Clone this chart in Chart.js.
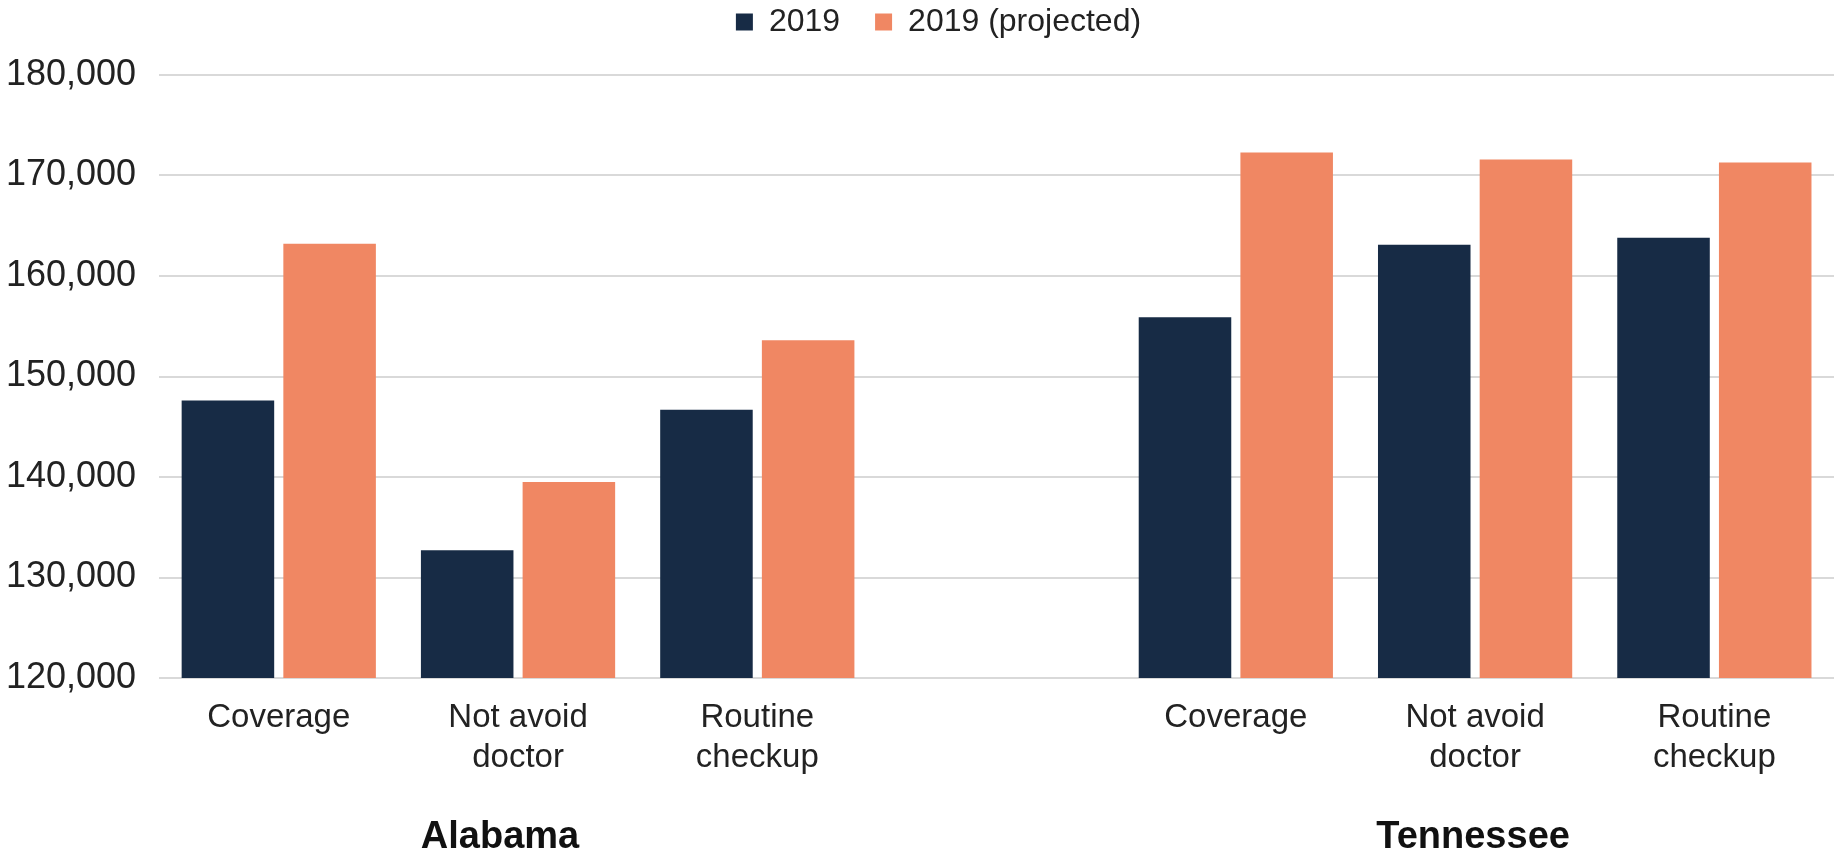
<!DOCTYPE html>
<html lang="en">
<head>
    <meta charset="UTF-8">
    <title>Alabama and Tennessee, 2019 vs 2019 (projected)</title>
    <script src="https://cdn.jsdelivr.net/npm/chart.js@4/dist/chart.umd.min.js"></script>
    <style>
        html, body {
            margin: 0;
            padding: 0;
            background: #fff;
        }
        .chart-container {
            width: 1837px;
            height: 850px;
        }
    </style>
</head>
<body>
    <div class="chart-container">
        <canvas id="healthChart"></canvas>
    </div>

    <script>
        // categories (blank slot separates the two states)
        const categories = [
            'Coverage', ['Not avoid', 'doctor'], ['Routine', 'checkup'],
            '',
            'Coverage', ['Not avoid', 'doctor'], ['Routine', 'checkup']
        ];
        const groupNames = ['Alabama', 'Tennessee'];
        const groupCenterIndex = [1, 5];
        const groupOffset = [-18, -2];

        const seriesNames = ['2019', '2019 (projected)'];
        const values2019 = [147600, 132700, 146700, null, 155900, 163100, 163800];
        const valuesProjected = [163200, 139500, 153600, null, 172300, 171600, 171300];

        const yTicks = [120000, 130000, 140000, 150000, 160000, 170000, 180000];

        const navy = '#172B45';
        const orange = '#F08763';
        const textColor = '#222222';
        const fontFamily = '"Liberation Sans", Arial, sans-serif';

        const groupLabelPlugin = {
            id: 'groupLabels',
            afterDraw(chart) {
                const ctx = chart.ctx;
                const xScale = chart.scales.x;
                ctx.save();
                ctx.font = 'bold 38px ' + fontFamily;
                ctx.fillStyle = '#111111';
                ctx.textAlign = 'center';
                ctx.textBaseline = 'middle';
                groupNames.forEach((name, i) => {
                    const x = xScale.getPixelForValue(groupCenterIndex[i]) + groupOffset[i];
                    ctx.fillText(name, x, chart.height - 12);
                });
                ctx.restore();
            }
        };

        // legend in the original sits a little right of the canvas centre
        const legendNudgePlugin = {
            id: 'legendNudge',
            afterLayout(chart) {
                if (chart.legend) {
                    chart.legend.left += 30;
                    chart.legend.right += 30;
                }
            }
        };

        const ctx = document.getElementById('healthChart').getContext('2d');

        new Chart(ctx, {
            type: 'bar',
            data: {
                labels: categories,
                datasets: [{
                    label: seriesNames[0],
                    data: values2019,
                    backgroundColor: navy,
                    borderWidth: 0
                }, {
                    label: seriesNames[1],
                    data: valuesProjected,
                    backgroundColor: orange,
                    borderWidth: 0
                }]
            },
            options: {
                responsive: true,
                maintainAspectRatio: false,
                animation: false,
                categoryPercentage: 0.85,
                barPercentage: 0.91,
                layout: {
                    padding: { left: -17, right: 3, top: -29, bottom: 0 }
                },
                plugins: {
                    legend: {
                        position: 'top',
                        labels: {
                            boxWidth: 17,
                            boxHeight: 17,
                            padding: 35,
                            color: textColor,
                            font: { family: fontFamily, size: 32, lineHeight: 1 }
                        }
                    },
                    // empty subtitle used as a spacer between legend and plot
                    subtitle: {
                        display: true,
                        text: '',
                        weight: 500,
                        padding: 0,
                        font: { size: 27, lineHeight: 1 }
                    },
                    tooltip: { enabled: false }
                },
                scales: {
                    x: {
                        grid: { display: false },
                        border: { display: false },
                        ticks: {
                            color: textColor,
                            padding: 12,
                            maxRotation: 0,
                            autoSkip: false,
                            font: { family: fontFamily, size: 33, lineHeight: 40 / 33 }
                        },
                        afterFit(scale) {
                            scale.height = 172;
                        }
                    },
                    y: {
                        min: yTicks[0],
                        max: yTicks[yTicks.length - 1],
                        grid: {
                            color: '#D9D9D9',
                            lineWidth: 2,
                            drawTicks: false
                        },
                        border: { display: false },
                        afterBuildTicks(scale) {
                            scale.ticks = yTicks.map(v => ({ value: v }));
                        },
                        ticks: {
                            color: textColor,
                            padding: 23,
                            font: { family: fontFamily, size: 36 },
                            callback: value => value.toLocaleString('en-US')
                        }
                    }
                }
            },
            plugins: [groupLabelPlugin, legendNudgePlugin]
        });
    </script>
</body>
</html>
